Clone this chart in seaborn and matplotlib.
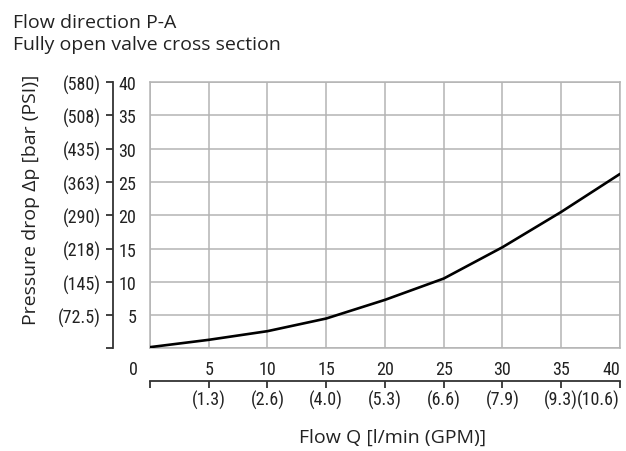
import matplotlib
matplotlib.use("Agg")
import matplotlib.pyplot as plt
import seaborn as sns
import pandas as pd

# flow in l/min and pressure drop in bar
flow_lpm = [0, 5, 10, 15, 20, 25, 30, 35, 40]
dp_bar = [0.2, 1.3, 2.6, 4.5, 7.3, 10.5, 15.2, 20.5, 26.2]

x_ticks = [0, 5, 10, 15, 20, 25, 30, 35, 40]
x_labels = ['', '5', '10', '15', '20', '25', '30', '35', '40']
gpm_labels = ['', '(1.3)', '(2.6)', '(4.0)', '(5.3)', '(6.6)', '(7.9)', '(9.3)', '(10.6)']
y_ticks = [0, 5, 10, 15, 20, 25, 30, 35, 40]
bar_labels = ['', '5', '10', '15', '20', '25', '30', '35', '40']
psi_labels = ['', '(72.5)', '(145)', '(218)', '(290)', '(363)', '(435)', '(508)', '(580)']

sns.set_style("white")
plt.rcParams['font.family'] = ['Open Sans', 'DejaVu Sans']
narrow = ['Roboto Condensed', 'Roboto', 'DejaVu Sans']
tick_size = 13
tick_col = '#222222'
grid_col = '#b4b4b4'

df = pd.DataFrame({'flow': flow_lpm, 'dp': dp_bar})

fig = plt.figure(figsize=(6.26, 4.52), dpi=100)
ax = fig.add_axes([0.2396, 0.2268, 0.7508, 0.5896])
sns.lineplot(data=df, x='flow', y='dp', ax=ax, color='black', linewidth=1.9, zorder=3)

ax.set_xlim(0, 40)
ax.set_ylim(0, 40)
ax.set_xticks(x_ticks, labels=x_labels)
ax.set_yticks(y_ticks, labels=bar_labels)
ax.grid(True, color=grid_col, linewidth=1.1)
for s in ax.spines.values():
    s.set_color(grid_col)
    s.set_linewidth(1.1)
ax.tick_params(axis='both', length=0, labelsize=tick_size, labelcolor=tick_col)
ax.tick_params(axis='x', pad=8)
ax.tick_params(axis='y', pad=10)
for lab in ax.get_xticklabels() + ax.get_yticklabels():
    lab.set_family(narrow)
ax.get_xticklabels()[-1].set_horizontalalignment('right')
ax.get_xticklabels()[-1].set_x(40.15)
ax.set_xlabel('')
ax.set_ylabel('')
ax.annotate('0', xy=(0, 0), xycoords='data', xytext=(-17, -21),
            textcoords='offset pixels', ha='center', va='center',
            fontsize=tick_size, color=tick_col, family=narrow)

# separate outer axes carrying the PSI and GPM scales
secy = ax.secondary_yaxis(-0.0787)
secy.set_yticks(y_ticks, labels=psi_labels)
secy.spines['left'].set_color('#333333')
secy.spines['left'].set_linewidth(1.3)
secy.tick_params(length=5, width=1.3, color='#333333', labelsize=tick_size,
                 labelcolor=tick_col, pad=4)
for lab in secy.get_yticklabels():
    lab.set_family(narrow)

secx = ax.secondary_xaxis(-0.122)
secx.set_xticks(x_ticks, labels=gpm_labels)
secx.spines['bottom'].set_color('#333333')
secx.spines['bottom'].set_linewidth(1.3)
secx.tick_params(length=5, width=1.3, color='#333333', labelsize=tick_size,
                 labelcolor=tick_col, pad=1.5)
for lab in secx.get_xticklabels():
    lab.set_family(narrow)
secx.get_xticklabels()[-1].set_horizontalalignment('right')
secx.get_xticklabels()[-1].set_x(40.15)

fig.text(13 / 626, 1 - 28 / 452, 'Flow direction P-A', fontsize=14,
         color='#222222', va='baseline', ha='left')
fig.text(13 / 626, 1 - 50 / 452, 'Fully open valve cross section', fontsize=14,
         color='#222222', va='baseline', ha='left')
fig.text(31 / 626, 1 - 200 / 452, 'Pressure drop Δp [bar (PSI)]', fontsize=14,
         color='#222222', rotation=90, va='center', ha='center')
fig.text(393 / 626, 1 - 438 / 452, 'Flow Q [l/min (GPM)]', fontsize=14,
         color='#222222', va='center', ha='center')

fig.savefig('out.png', dpi=100)
